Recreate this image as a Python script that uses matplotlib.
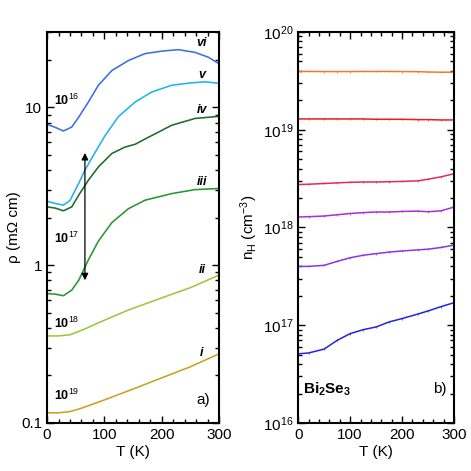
import numpy as np
import matplotlib
matplotlib.use("Agg")
import matplotlib.pyplot as plt
from matplotlib.ticker import MultipleLocator, FixedLocator, FixedFormatter, LogLocator

plt.rcParams['font.family'] = ['Liberation Sans', 'DejaVu Sans']
plt.rcParams['mathtext.fontset'] = 'custom'
plt.rcParams['mathtext.rm'] = 'Liberation Sans'
plt.rcParams['mathtext.it'] = 'Liberation Sans:italic'
plt.rcParams['mathtext.bf'] = 'Liberation Sans:bold'

# ---- panel a) resistivity (mOhm cm) ----
T_vi = [0, 14, 28.5, 43, 55, 72, 89.5, 113, 142, 171, 200, 229, 258, 281, 300]
rho_vi = [7.8, 7.47, 7.08, 7.5, 8.65, 10.8, 13.8, 17.1, 19.8, 21.9, 22.7, 23.2, 22.3, 20.8, 18.9]

T_v = [0, 14, 28.5, 40, 55, 66, 84, 101, 124, 153.5, 182.6, 217.5, 252, 276, 300]
rho_v = [2.54, 2.46, 2.4, 2.57, 3.29, 4.0, 5.2, 6.6, 8.7, 10.8, 12.5, 13.8, 14.3, 14.5, 14.2]

T_iv = [0, 14, 28.5, 43, 55, 72, 89.5, 113, 136, 153.5, 171, 217.5, 258, 300]
rho_iv = [2.34, 2.3, 2.21, 2.34, 2.77, 3.45, 4.19, 5.1, 5.6, 5.83, 6.3, 7.7, 8.5, 8.77]

T_iii = [0, 14, 28.5, 43, 55, 72, 89.5, 113, 142, 171, 217.5, 258, 300]
rho_iii = [0.66, 0.655, 0.64, 0.695, 0.80, 1.08, 1.42, 1.86, 2.28, 2.58, 2.84, 3.01, 3.06]

T_ii = [0, 20, 40, 63, 92, 142, 200, 250, 300]
rho_ii = [0.356, 0.356, 0.362, 0.39, 0.435, 0.52, 0.62, 0.72, 0.865]

T_i = [0, 20, 40, 60, 100, 150, 200, 250, 300]
rho_i = [0.116, 0.116, 0.118, 0.124, 0.14, 0.164, 0.193, 0.227, 0.274]

curves_a = [
    (T_i, rho_i, '#c9a224', 'i', 0.277, '10$^{19}$', 0.15),
    (T_ii, rho_ii, '#9dc83e', 'ii', 0.93, '10$^{18}$', 0.43),
    (T_iii, rho_iii, '#2a962e', 'iii', 3.35, '10$^{17}$', 1.48),
    (T_iv, rho_iv, '#1f6b2b', 'iv', 9.57, None, None),
    (T_v, rho_v, '#22b2ee', 'v', 16.0, None, None),
    (T_vi, rho_vi, '#3b6fe6', 'vi', 25.4, '10$^{16}$', 11.1),
]

# ---- panel b) Hall density (cm^-3) ----
T_b = [0, 20, 50, 75, 100, 125, 150, 175, 200, 230, 250, 275, 300]
n_1 = [3.95e19, 3.95e19, 3.94e19, 3.94e19, 3.94e19, 3.95e19, 3.95e19, 3.95e19, 3.94e19, 3.93e19, 3.9e19, 3.88e19, 3.88e19]
n_2 = [1.29e19, 1.29e19, 1.29e19, 1.29e19, 1.29e19, 1.29e19, 1.28e19, 1.28e19, 1.28e19, 1.27e19, 1.27e19, 1.26e19, 1.26e19]
n_3 = [2.75e18, 2.77e18, 2.82e18, 2.86e18, 2.9e18, 2.92e18, 2.92e18, 2.94e18, 2.96e18, 3.0e18, 3.12e18, 3.3e18, 3.55e18]
n_4 = [1.28e18, 1.29e18, 1.31e18, 1.35e18, 1.39e18, 1.42e18, 1.44e18, 1.44e18, 1.46e18, 1.47e18, 1.45e18, 1.48e18, 1.62e18]
n_5 = [4.0e17, 4.0e17, 4.1e17, 4.5e17, 4.9e17, 5.2e17, 5.4e17, 5.6e17, 5.75e17, 5.9e17, 6.0e17, 6.25e17, 6.6e17]
n_6 = [5.1e16, 5.2e16, 5.7e16, 7.0e16, 8.2e16, 9.0e16, 9.6e16, 1.08e17, 1.17e17, 1.3e17, 1.4e17, 1.55e17, 1.7e17]

curves_b = [
    (n_1, '#f07a2c'),
    (n_2, '#f01a1a'),
    (n_3, '#e5285e'),
    (n_4, '#b22ad6'),
    (n_5, '#8a36e0'),
    (n_6, '#2424e0'),
]

fig = plt.figure(figsize=(4.71, 4.71), dpi=100)
ax1 = fig.add_axes([0.100, 0.102, 0.365, 0.830])
ax2 = fig.add_axes([0.633, 0.102, 0.331, 0.830])

fs = 11

for T, rho, c, lab, ylab, dens, ydens in curves_a:
    ax1.plot(T, rho, color=c, lw=1.15)
    ax1.text(270, ylab, lab, fontsize=9, fontweight='bold', style='italic', ha='center', va='center')
    if dens is not None:
        ax1.text(12, ydens, dens, fontsize=9, fontweight='bold', ha='left', va='center')

ax1.annotate('', xy=(66, 5.35), xytext=(66, 0.77),
             arrowprops=dict(arrowstyle='<|-|>', color='black', lw=0.9, mutation_scale=10))
ax1.text(285, 0.14, 'a)', fontsize=fs, ha='right', va='center')

ax1.set_yscale('log')
ax1.set_xlim(0, 300)
ax1.set_ylim(0.1, 30)
ax1.yaxis.set_major_locator(FixedLocator([0.1, 1, 10]))
ax1.yaxis.set_major_formatter(FixedFormatter(['0.1', '1', '10']))
ax1.yaxis.set_minor_locator(LogLocator(base=10, subs=np.arange(2, 10)))
ax1.set_ylabel('ρ (mΩ cm)', fontsize=fs, labelpad=0)

for n, c in curves_b:
    ax2.plot(T_b, n, color=c, lw=1.1, marker='|', ms=1.8, mew=0.5)
ax2.text(10, 2.2e16, r'Bi$_\mathbf{2}$Se$_\mathbf{3}$', fontsize=fs, fontweight='bold', ha='left', va='center')
ax2.text(285, 2.2e16, 'b)', fontsize=fs, ha='right', va='center')
ax2.set_yscale('log')
ax2.set_xlim(0, 300)
ax2.set_ylim(1e16, 1e20)
ax2.yaxis.set_minor_locator(LogLocator(base=10, subs=np.arange(2, 10)))
ax2.set_ylabel(r'n$_\mathrm{H}$ (cm$^{-3}$)', fontsize=fs, labelpad=2)

for ax in (ax1, ax2):
    ax.set_xlabel('T (K)', fontsize=fs, labelpad=2)
    ax.xaxis.set_major_locator(MultipleLocator(100))
    ax.xaxis.set_minor_locator(MultipleLocator(20))
    ax.tick_params(which='both', direction='in', top=True, right=True, labelsize=fs, width=1.0)
    ax.tick_params(which='major', length=5)
    ax.tick_params(which='minor', length=3)
    for s in ax.spines.values():
        s.set_linewidth(1.5)

fig.savefig('out.png', dpi=100)
